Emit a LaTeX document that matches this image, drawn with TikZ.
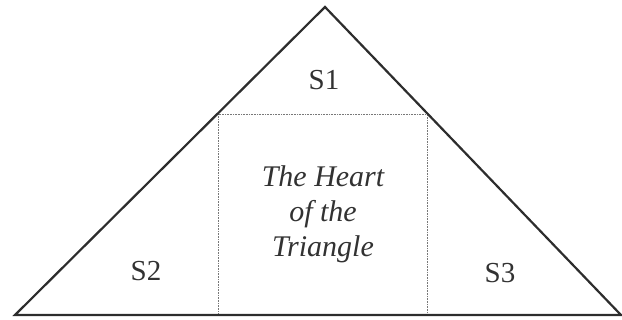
\documentclass[tikz,border=0pt]{standalone}
\usepackage{fontspec}
\setmainfont{Liberation Serif}
\usepackage{tikz}
\usetikzlibrary{positioning,calc}
\definecolor{Cline}{RGB}{45, 45, 45}
\definecolor{Cdot}{RGB}{120, 120, 120}
\definecolor{Ctext}{RGB}{50, 50, 50}
\tikzset{
    tside/.style={draw=Cline, line width=2.2pt, line join=miter},
    hbox/.style={draw=Cdot, line width=0.8pt, dash pattern=on 0.8pt off 0.8pt},
    slabel/.style={text=Ctext, font=\fontsize{29}{34}\selectfont, inner sep=0pt},
    hlabel/.style={text=Ctext, align=center, inner sep=0pt,
        font=\fontsize{30}{35}\selectfont\itshape},
}

\begin{document}
\begin{tikzpicture}[x=1pt, y=-1pt]

    \useasboundingbox (0,0) rectangle (622,320);

    % corners of the triangle
    \coordinate (apex) at (325,7);
    \coordinate (bl) at (15,315);
    \coordinate (br) at (621,315);

    % corners of the inner square
    \coordinate (sqtl) at (218,114);
    \coordinate (sqtr) at (427,114);
    \coordinate (sqbl) at (218,315);
    \coordinate (sqbr) at (427,315);

    \draw [hbox] (sqbl) -- (sqtl) -- (sqtr) -- (sqbr);
    \draw [tside] (bl) -- (apex) -- (br) -- cycle;

    \node [slabel] (s1) at (324,80) {S1};
    \node [slabel] (s2) at (146,271) {S2};
    \node [slabel] (s3) at (500,273) {S3};
    \node [hlabel] (heart) at (323,214) {The Heart\\of the\\Triangle};

\end{tikzpicture}
\end{document}
